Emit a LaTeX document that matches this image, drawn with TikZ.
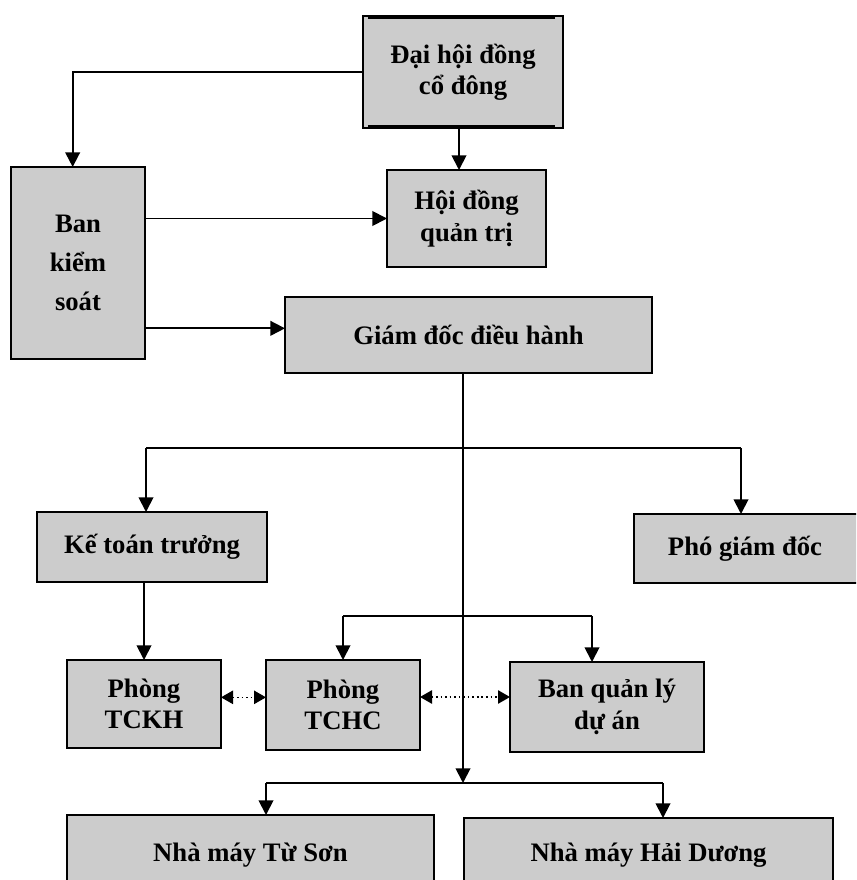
\documentclass[tikz,border=0pt]{standalone}
\usepackage{fontspec}
\setmainfont{Liberation Serif}
\usetikzlibrary{arrows.meta}
\begin{document}
\begin{tikzpicture}[x=0.75pt,y=-0.75pt,
  box/.style={draw=black,line width=1.3pt,fill=black!20,inner sep=0pt,outer sep=0pt,
    align=center,font=\bfseries\fontsize{20}{23.5}\selectfont},
  ln/.style={line width=1.4pt},
  arr/.style={line width=1.4pt,-{Triangle[length=11pt,width=11pt]}},
  darr/.style={line width=1.2pt,dash pattern=on 1.2pt off 2.2pt,
    {Triangle[length=9pt,width=10pt]}-{Triangle[length=9pt,width=10pt]}}]
\useasboundingbox (0,0) rectangle (856,880);
\clip (0,0) rectangle (856,880);
% nodes
\node[box,minimum width=150pt,minimum height=84pt] (dh) at (463,72) {Đại hội đồng\\cổ đông};
\node[box,minimum width=100.5pt,minimum height=144pt,font=\bfseries\fontsize{20}{29}\selectfont] (bks) at (78,263) {Ban\\kiểm\\soát};
\node[box,minimum width=119.25pt,minimum height=72.75pt] (hd) at (466.5,218.5) {Hội đồng\\quản trị};
\node[box,minimum width=275.25pt,minimum height=57pt] (gd) at (468.5,335) {Giám đốc điều hành};
\node[box,minimum width=172.5pt,minimum height=52.5pt] (kt) at (152,547) {Kế toán trưởng};
\node[box,minimum width=169.5pt,minimum height=51.75pt] (pg) at (747,548.5) {\hspace*{-3pt}Phó giám đốc};
\node[box,minimum width=115.5pt,minimum height=66pt] (tk) at (144,704) {Phòng\\TCKH};
\node[box,minimum width=115.5pt,minimum height=67.5pt] (tc) at (343,705) {Phòng\\TCHC};
\node[box,minimum width=145.5pt,minimum height=67.5pt] (bq) at (607,707) {Ban quản lý\\dự án};
\node[box,minimum width=275.25pt,minimum height=60pt] (ts) at (250.5,855) {Nhà máy Từ Sơn};
\node[box,minimum width=276.75pt,minimum height=56.25pt] (hdg) at (648.5,855.5) {Nhà máy Hải Dương};
% thick top/bottom edges of the first box
\draw[line width=2.8pt] ([xshift=4pt,yshift=-0.5pt]dh.north west) -- ([xshift=-6pt,yshift=-0.5pt]dh.north east);
\draw[line width=2.8pt] ([xshift=4pt,yshift=0.5pt]dh.south west) -- ([xshift=-6pt,yshift=0.5pt]dh.south east);
% junction coordinates
\coordinate (j1) at (463,448);
\coordinate (j2) at (463,616);
\coordinate (j3) at (463,783);
\coordinate (k1) at (146,448);
\coordinate (p1) at (741,448);
\coordinate (b1) at (592,616);
\coordinate (n1) at (266,783);
\coordinate (n2) at (663,783);
% connectors
\draw[arr] (dh.west) -| ([xshift=-4pt]bks.north);
\draw[arr] ([xshift=-3pt]dh.south) -- ([xshift=-3pt]dh.south |- hd.north);
\draw[arr] (bks.east |- hd.west) -- (hd.west);
\draw[arr] ([yshift=5pt]bks.east |- gd.west) -- ([yshift=5pt]gd.west);
\draw[arr] (gd.south -| j1) -- (j3);
\draw[ln] (k1) -- (p1);
\draw[arr] (k1) -- (k1 |- kt.north);
\draw[arr] (p1) -- (p1 |- pg.north);
\draw[arr] (kt.south -| tk.north) -- (tk.north);
\draw[ln] (tc.north |- j2) -- (b1);
\draw[arr] (tc.north |- j2) -- (tc.north);
\draw[arr] (b1) -- (b1 |- bq.north);
\draw[darr] ([yshift=5pt]tk.east) -- ([yshift=5pt]tk.east -| tc.west);
\draw[darr] ([yshift=6pt]tc.east) -- ([yshift=6pt]tc.east -| bq.west);
\draw[ln] (n1) -- (n2);
\draw[arr] (n1) -- (n1 |- ts.north);
\draw[arr] (n2) -- (n2 |- hdg.north);
\end{tikzpicture}
\end{document}
